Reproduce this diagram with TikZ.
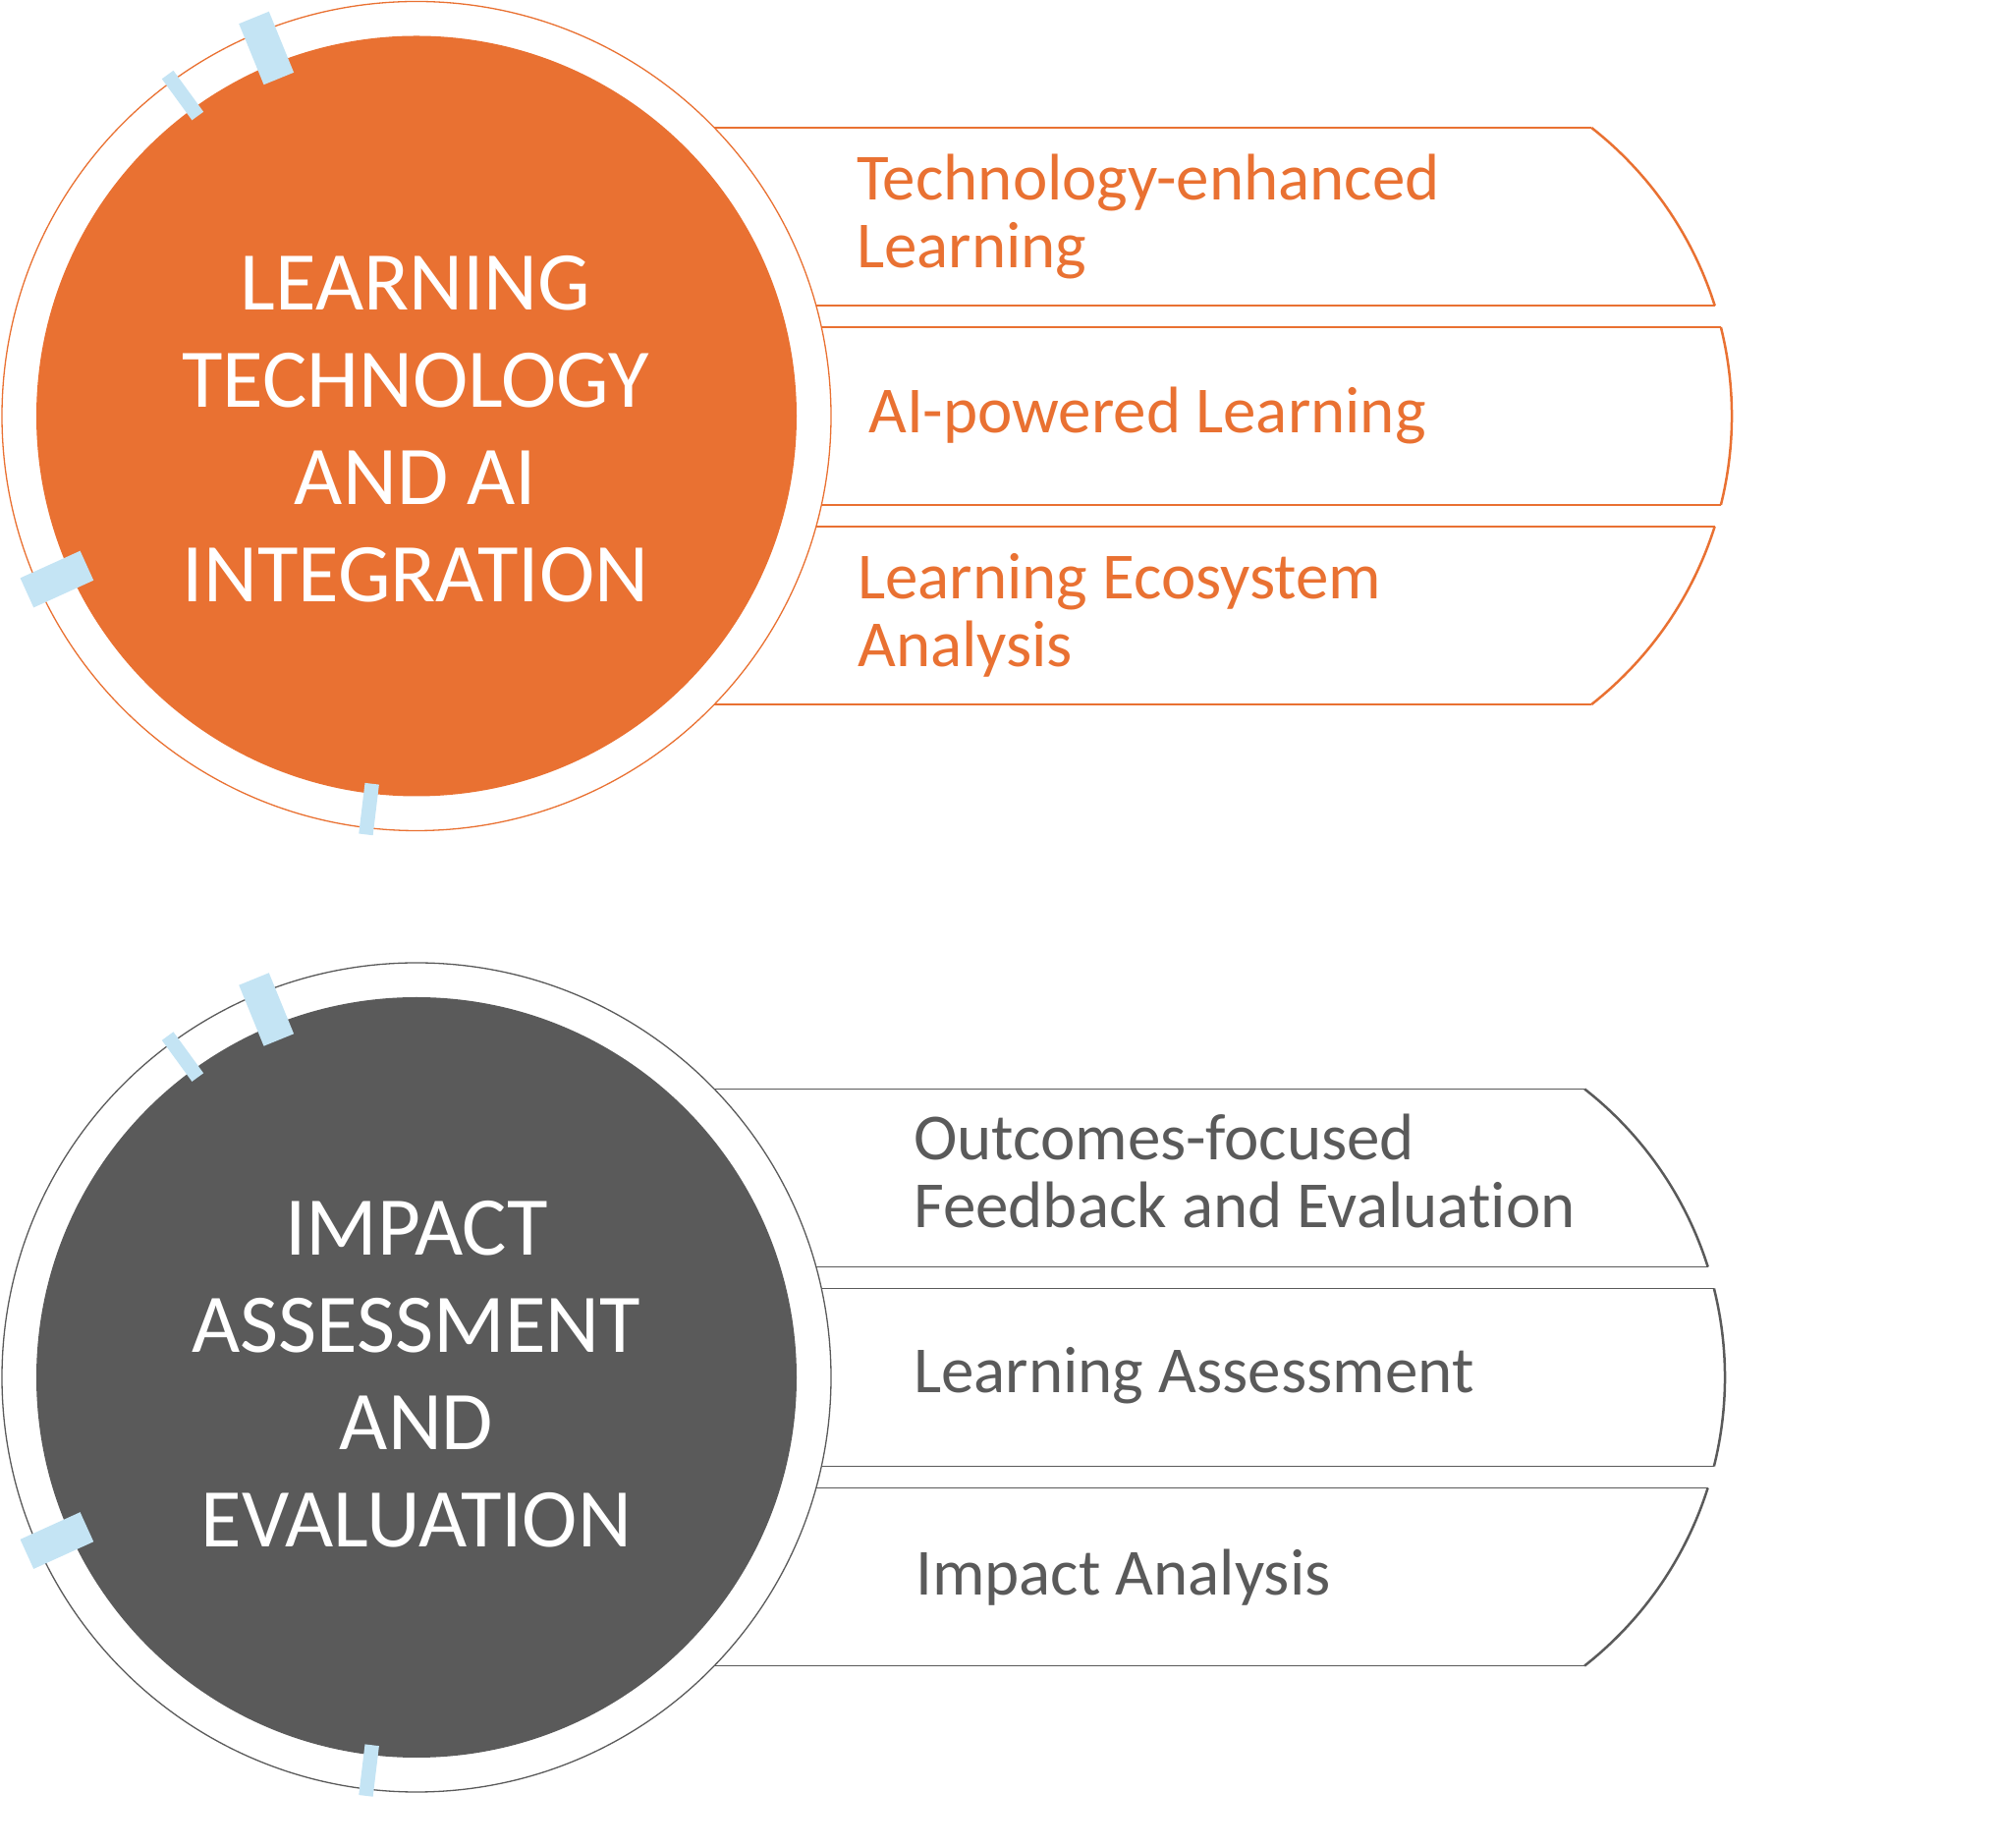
\documentclass[tikz,border=0pt]{standalone}
\usepackage{fontspec}
\setmainfont{Carlito}[Ligatures=NoCommon]
\usetikzlibrary{calc}
\definecolor{orng}{HTML}{E97132}
\definecolor{gry}{HTML}{5A5A5A}
\definecolor{tabblue}{HTML}{C4E4F4}
\begin{document}
\begin{tikzpicture}[x=1pt,y=1pt,
  outerring/.style={line width=1.3pt},
  bandline/.style={line width=1.5pt},
  bandarc/.style={line width=2.5pt},
  hubdisc/.style={circle, inner sep=0pt, minimum size=774pt, draw=none},
  tabrect/.style={rectangle, fill=tabblue, draw=none, inner sep=0pt},
  bigtab/.style={tabrect, minimum width=67pt, minimum height=33pt},
  smalltab/.style={tabrect, minimum width=52pt, minimum height=14.5pt},
  hubtext/.style={white, font=\fontsize{85}{99}\selectfont, align=center, inner sep=0pt},
  itemtext/.style={font=\fontsize{67}{69}\selectfont, align=left, inner sep=0pt, anchor=base west}
]
\useasboundingbox (0,0) rectangle (2032,1880);

% ---------------- top group ----------------
\coordinate (c1) at (424,1456.5);
\coordinate (a1) at (1390,1456.5);
\draw[orng, outerring] (c1) circle[radius=422];
\node[hubdisc, fill=orng] (hub1) at (c1) {};

\draw[orng, bandline] (727.2,1750) -- (1620.2,1750);
\draw[orng, bandarc] (1620.2,1750) arc[start angle=51.9, end angle=17.55, radius=373];
\draw[orng, bandline] (830.7,1569) -- (1745.6,1569);

\draw[orng, bandline] (836.2,1547) -- (1751.9,1547);
\draw[orng, bandarc] (1751.9,1547) arc[start angle=14.04, end angle=-14.04, radius=373];
\draw[orng, bandline] (836.2,1366) -- (1751.9,1366);

\draw[orng, bandline] (830.7,1344) -- (1745.6,1344);
\draw[orng, bandarc] (1745.6,1344) arc[start angle=-17.55, end angle=-51.9, radius=373];
\draw[orng, bandline] (727.2,1163) -- (1620.2,1163);

\node[bigtab, rotate=112.2] (t1a) at ($(c1)+(112.2:404.5)$) {};
\node[smalltab, rotate=126.1] (t1b) at ($(c1)+(126.1:404)$) {};
\node[bigtab, rotate=204.4] (t1c) at ($(c1)+(204.4:402)$) {};
\node[smalltab, rotate=263.1] (t1d) at ($(c1)+(263.1:403)$) {};

\node[hubtext] (hub1text) at (423,1443.5) {LEARNING\\TECHNOLOGY\\AND AI\\INTEGRATION};

\node[itemtext, orng] (i1a) at (872,1607) {Technology-enhanced\\Learning};
\node[itemtext, orng] (i1b) at (884,1439) {AI-powered Learning};
\node[itemtext, orng] (i1c) at (873,1201) {Learning Ecosystem\\Analysis};

% ---------------- bottom group ----------------
\coordinate (c2) at (424,478);
\coordinate (a2) at (1383,478);
\draw[gry, outerring] (c2) circle[radius=422];
\node[hubdisc, fill=gry] (hub2) at (c2) {};

\draw[gry, bandline] (727.2,771.5) -- (1613.2,771.5);
\draw[gry, bandarc] (1613.2,771.5) arc[start angle=51.9, end angle=17.55, radius=373];
\draw[gry, bandline] (830.7,590.5) -- (1738.6,590.5);

\draw[gry, bandline] (836.2,568.5) -- (1744.9,568.5);
\draw[gry, bandarc] (1744.9,568.5) arc[start angle=14.04, end angle=-14.04, radius=373];
\draw[gry, bandline] (836.2,387.5) -- (1744.9,387.5);

\draw[gry, bandline] (830.7,365.5) -- (1738.6,365.5);
\draw[gry, bandarc] (1738.6,365.5) arc[start angle=-17.55, end angle=-51.9, radius=373];
\draw[gry, bandline] (727.2,184.5) -- (1613.2,184.5);

\node[bigtab, rotate=112.2] (t2a) at ($(c2)+(112.2:404.5)$) {};
\node[smalltab, rotate=126.1] (t2b) at ($(c2)+(126.1:404)$) {};
\node[bigtab, rotate=204.4] (t2c) at ($(c2)+(204.4:402)$) {};
\node[smalltab, rotate=263.1] (t2d) at ($(c2)+(263.1:403)$) {};

\node[hubtext] (hub2text) at (424,481.2) {IMPACT\\ASSESSMENT\\AND\\EVALUATION};

\node[itemtext, gry] (i2a) at (930,630) {Outcomes-focused\\Feedback and Evaluation};
\node[itemtext, gry] (i2b) at (930,462) {Learning Assessment};
\node[itemtext, gry] (i2c) at (932,256.5) {Impact Analysis};
\end{tikzpicture}
\end{document}
